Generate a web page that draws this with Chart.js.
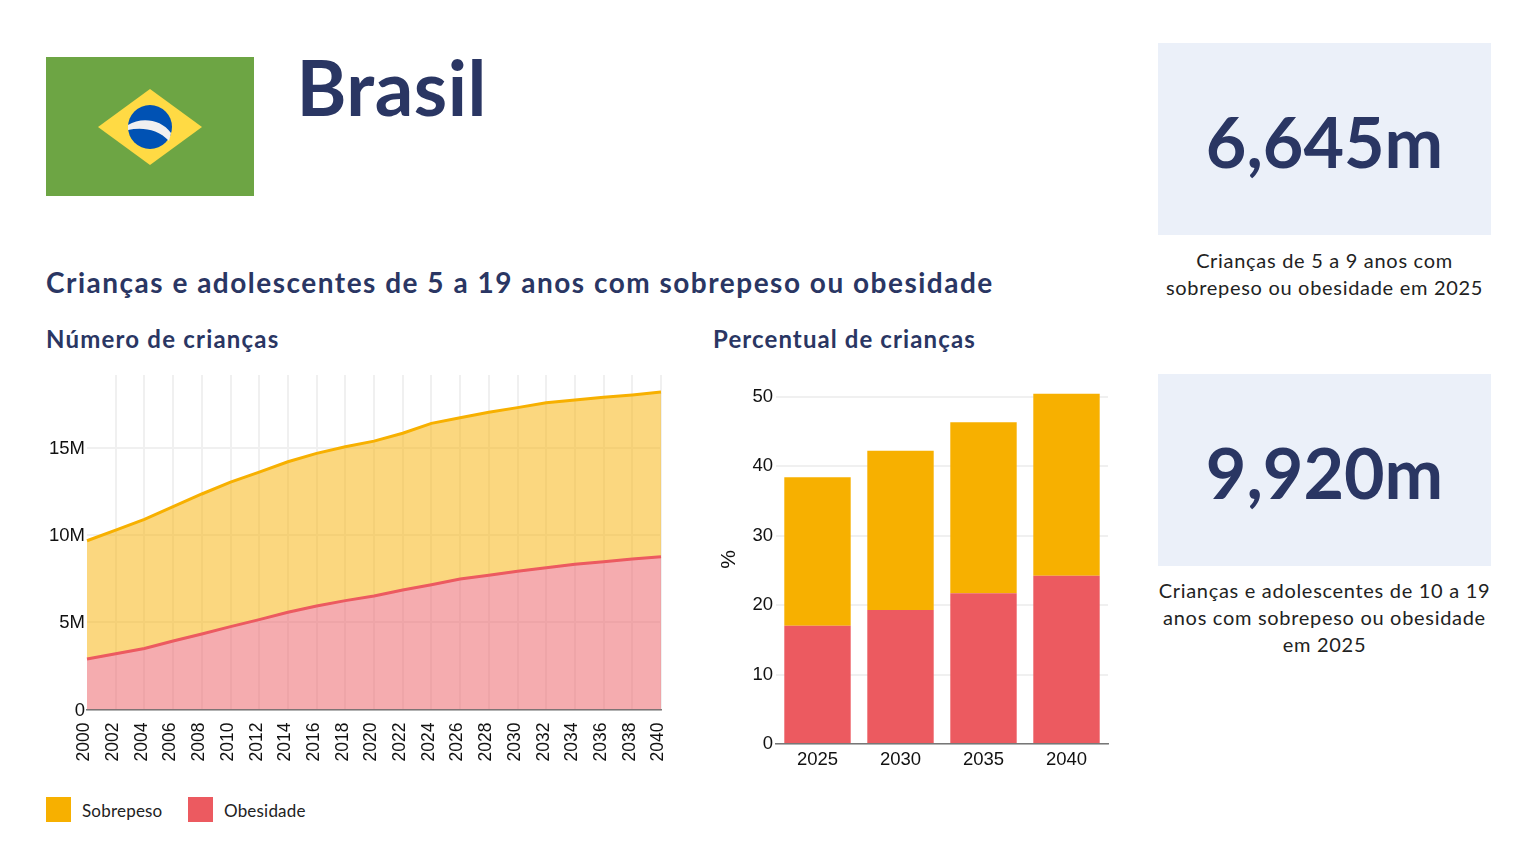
<!DOCTYPE html>
<html lang="pt">
<head>
<meta charset="utf-8">
<title>Brasil</title>
<script src="https://cdn.jsdelivr.net/npm/chart.js@4/dist/chart.umd.min.js"></script>
<style>
  html, body { margin: 0; padding: 0; background: #fff; }
  body { width: 1532px; height: 855px; position: relative; overflow: hidden; font-family: Lato, sans-serif; color: #2a3663; }
  .txt { position: absolute; white-space: nowrap; }
  .caixa { position: absolute; left: 1158px; width: 333px; height: 189px; padding-top: 3px; background: #ebf0f9; display: flex; align-items: center; justify-content: center; font-size: 70px; font-weight: 700; }
  .legenda { position: absolute; left: 1158px; width: 333px; text-align: center; white-space: nowrap; font-size: 20px; line-height: 27.3px; letter-spacing: 0.7px; color: #222; }
  .cor { position: absolute; top: 797px; width: 25px; height: 25px; }
  canvas { position: absolute; }
</style>
</head>
<body>
<svg style="position:absolute;left:46px;top:57px" width="208" height="139" viewBox="0 0 208 139">
  <rect width="208" height="139" fill="#6da544"/>
  <polygon points="104,32 156,70 104,108 52,70" fill="#ffda44"/>
  <circle cx="104" cy="70" r="22" fill="#0052b4"/>
  <path d="M82 68 C95 60 115 62 125 76 L123 84 C112 72 96 70 82 73 Z" fill="#f0f0f0"/>
</svg>
<div class="txt" style="left:296.5px;top:41px;font-size:76px;font-weight:700;letter-spacing:0.5px">Brasil</div>
<div class="txt" style="left:46px;top:265px;font-size:28px;font-weight:700;letter-spacing:1.5px">Crianças e adolescentes de 5 a 19 anos com sobrepeso ou obesidade</div>
<div class="txt" style="left:46px;top:324px;font-size:24px;font-weight:700;letter-spacing:1.2px">Número de crianças</div>
<div class="txt" style="left:713px;top:324px;font-size:24px;font-weight:700;letter-spacing:1.1px">Percentual de crianças</div>

<div class="caixa" style="top:43px">6,645m</div>
<div class="legenda" style="top:246.5px">Crianças de 5 a 9 anos com<br>sobrepeso ou obesidade em 2025</div>
<div class="caixa" style="top:374px">9,920m</div>
<div class="legenda" style="top:576.5px">Crianças e adolescentes de 10 a 19<br>anos com sobrepeso ou obesidade<br>em 2025</div>

<canvas id="graficoArea" width="650" height="410" style="left:30px;top:365px"></canvas>
<canvas id="graficoBarras" width="420" height="410" style="left:700px;top:365px"></canvas>

<div class="cor" style="left:46px;background:#f7b000"></div>
<div class="txt" style="left:82px;top:800px;font-size:17px;letter-spacing:0.2px;color:#222">Sobrepeso</div>
<div class="cor" style="left:188px;background:#ec5a60"></div>
<div class="txt" style="left:224px;top:800px;font-size:17px;letter-spacing:0.2px;color:#222">Obesidade</div>

<script>
const anos = ['2000','2002','2004','2006','2008','2010','2012','2014','2016','2018','2020','2022','2024','2026','2028','2030','2032','2034','2036','2038','2040']
const obesidadeNum = [2.89,3.2,3.5,3.93,4.33,4.75,5.15,5.57,5.93,6.24,6.5,6.85,7.15,7.48,7.7,7.92,8.13,8.32,8.47,8.62,8.76]
const sobrepesoNum = [6.78,7.08,7.4,7.69,8.02,8.28,8.45,8.63,8.75,8.82,8.88,8.98,9.25,9.24,9.33,9.38,9.45,9.42,9.42,9.41,9.44]

const quinquenios = ['2025','2030','2035','2040']
const obesidadePct = [17.0,19.3,21.7,24.2]
const sobrepesoPct = [21.4,22.9,24.6,26.2]

const amarelo = '#f7b000'
const vermelho = '#ec5a60'
const grade = '#f0f0f0'
const familia = '"Liberation Sans", Arial, sans-serif'

// tira a folga que o Chart.js reserva para os rotulos das pontas
function ajustaX(eixo, altura) {
    eixo.height = altura
    eixo.paddingLeft = 0
    eixo.paddingRight = 0
}
function ajustaY(eixo, largura) {
    eixo.width = largura
    eixo.paddingTop = 0
    eixo.paddingBottom = 0
}

new Chart(document.getElementById('graficoArea'), {
    type: 'line',
    data: {
        labels: anos,
        datasets: [{
            label: 'Obesidade',
            data: obesidadeNum,
            borderColor: vermelho,
            backgroundColor: 'rgba(236,90,96,0.5)',
            borderWidth: 3,
            pointRadius: 0,
            fill: 'origin'
        }, {
            label: 'Sobrepeso',
            data: sobrepesoNum,
            borderColor: amarelo,
            backgroundColor: 'rgba(247,176,0,0.5)',
            borderWidth: 3,
            pointRadius: 0,
            fill: '-1'
        }]
    },
    options: {
        responsive: false,
        animation: false,
        layout: { padding: { top: 10, right: 19 } },
        plugins: { legend: { display: false }, tooltip: { enabled: false } },
        scales: {
            x: {
                stacked: true,
                offset: false,
                grid: { color: ctx => ctx.index === 0 ? 'transparent' : grade, lineWidth: 2, drawTicks: false },
                border: { color: '#777', width: 1.5 },
                ticks: { color: '#111', font: { family: familia, size: 17.5 }, maxRotation: 90, minRotation: 90, padding: 13, labelOffset: -2.5, autoSkip: false },
                afterFit: eixo => ajustaX(eixo, 65.5)
            },
            y: {
                stacked: true,
                min: 0,
                max: 19.17,
                grid: { color: grade, lineWidth: 2, drawTicks: false },
                border: { display: false },
                ticks: {
                    color: '#111',
                    font: { family: familia, size: 18.5 },
                    stepSize: 5,
                    includeBounds: false,
                    padding: 2,
                    labelOffset: 1,
                    callback: v => v === 0 ? '0' : v + 'M'
                },
                afterFit: eixo => ajustaY(eixo, 57)
            }
        }
    }
})

new Chart(document.getElementById('graficoBarras'), {
    type: 'bar',
    data: {
        labels: quinquenios,
        datasets: [{
            label: 'Obesidade',
            data: obesidadePct,
            backgroundColor: vermelho,
            barPercentage: 0.8,
            categoryPercentage: 1
        }, {
            label: 'Sobrepeso',
            data: sobrepesoPct,
            backgroundColor: amarelo,
            barPercentage: 0.8,
            categoryPercentage: 1
        }]
    },
    options: {
        responsive: false,
        animation: false,
        layout: { padding: { top: 10, right: 12 } },
        plugins: { legend: { display: false }, tooltip: { enabled: false } },
        scales: {
            x: {
                stacked: true,
                grid: { display: false, drawTicks: false },
                border: { color: '#777', width: 1.5 },
                ticks: { color: '#111', font: { family: familia, size: 18.5 }, padding: 5 },
                afterFit: eixo => ajustaX(eixo, 31)
            },
            y: {
                stacked: true,
                min: 0,
                max: 53.1,
                grid: { color: grade, lineWidth: 2, drawTicks: false },
                border: { display: false },
                title: { display: true, text: '%', color: '#111', font: { family: familia, size: 21 }, padding: { top: 17, bottom: 0 } },
                ticks: { color: '#111', font: { family: familia, size: 18.5 }, stepSize: 10, includeBounds: false, padding: 3 },
                afterFit: eixo => ajustaY(eixo, 76)
            }
        }
    }
})
</script>
</body>
</html>
